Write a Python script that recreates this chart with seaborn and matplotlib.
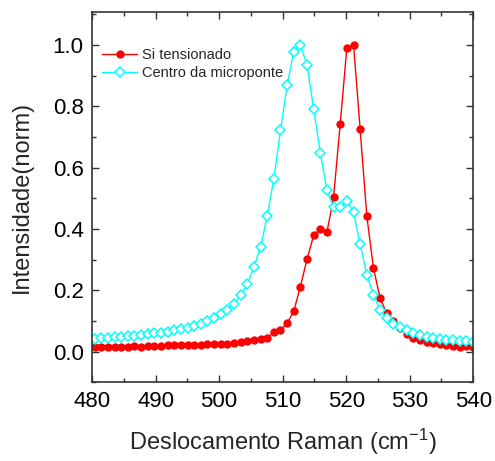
import pandas as pd
import seaborn as sns
import matplotlib.pyplot as plt
from matplotlib.ticker import MultipleLocator

# deslocamento Raman (cm-1), passo do espectrometro ~1.045
raman_shift = [480.40, 481.45, 482.49, 483.54, 484.58, 485.63, 486.67, 487.72, 488.76, 489.81,
               490.85, 491.90, 492.94, 493.99, 495.03, 496.08, 497.12, 498.17, 499.21, 500.26,
               501.30, 502.35, 503.39, 504.44, 505.48, 506.53, 507.57, 508.62, 509.66, 510.71,
               511.75, 512.80, 513.84, 514.89, 515.93, 516.98, 518.02, 519.07, 520.11, 521.16,
               522.20, 523.25, 524.29, 525.34, 526.38, 527.43, 528.47, 529.52, 530.56, 531.61,
               532.65, 533.70, 534.74, 535.79, 536.83, 537.88, 538.92, 539.97]

si_tensionado = [0.015, 0.016, 0.015, 0.016, 0.014, 0.016, 0.017, 0.016, 0.018, 0.019,
                 0.018, 0.020, 0.021, 0.020, 0.022, 0.021, 0.022, 0.024, 0.023, 0.026,
                 0.025, 0.029, 0.030, 0.034, 0.036, 0.040, 0.045, 0.063, 0.069, 0.093,
                 0.132, 0.212, 0.302, 0.379, 0.401, 0.390, 0.504, 0.744, 0.992, 1.001,
                 0.725, 0.442, 0.273, 0.174, 0.125, 0.101, 0.078, 0.058, 0.045, 0.038,
                 0.032, 0.028, 0.025, 0.021, 0.019, 0.016, 0.017, 0.015]

centro_microponte = [0.040, 0.043, 0.045, 0.048, 0.049, 0.051, 0.052, 0.055, 0.057, 0.059,
                     0.062, 0.065, 0.069, 0.073, 0.078, 0.084, 0.090, 0.099, 0.110, 0.121,
                     0.134, 0.154, 0.183, 0.219, 0.275, 0.341, 0.442, 0.564, 0.722, 0.869,
                     0.979, 1.000, 0.935, 0.790, 0.648, 0.526, 0.470, 0.470, 0.490, 0.455,
                     0.350, 0.251, 0.183, 0.136, 0.110, 0.090, 0.080, 0.070, 0.060, 0.053,
                     0.048, 0.045, 0.042, 0.039, 0.037, 0.035, 0.033, 0.031]

df = pd.DataFrame({'shift': raman_shift, 'si': si_tensionado, 'centro': centro_microponte})

sns.set_style('ticks')
plt.rcParams['font.family'] = ['Liberation Sans', 'DejaVu Sans']
plt.rcParams['mathtext.fontset'] = 'custom'
plt.rcParams['mathtext.rm'] = 'Liberation Sans'
plt.rcParams['mathtext.it'] = 'Liberation Sans'

fig = plt.figure(figsize=(4.95, 4.61), dpi=100)
ax = fig.add_axes([0.186, 0.171, 0.770, 0.803])

sns.lineplot(data=df, x='shift', y='si', ax=ax, color='#ff0000', lw=1,
             marker='o', markersize=6, markeredgewidth=0, label='Si tensionado')
sns.lineplot(data=df, x='shift', y='centro', ax=ax, color='#00ffff', lw=1,
             marker='D', markersize=5.5, markerfacecolor='white', markeredgecolor='#00ffff',
             markeredgewidth=1.1, label='Centro da microponte')

ax.set_xlim(480, 540)
ax.set_ylim(-0.1, 1.108)
ax.xaxis.set_major_locator(MultipleLocator(10))
ax.xaxis.set_minor_locator(MultipleLocator(5))
ax.yaxis.set_major_locator(MultipleLocator(0.2))
ax.yaxis.set_minor_locator(MultipleLocator(0.1))
ax.yaxis.set_major_formatter(plt.FuncFormatter(lambda v, p: f'{v:.1f}'))
ax.tick_params(which='both', direction='in', top=True, right=True, width=1, colors='#333333',
               labelcolor='black')
ax.tick_params(which='major', length=5, labelsize=16, pad=6)
ax.tick_params(which='minor', length=3)
for s in ax.spines.values():
    s.set_linewidth(1.2)
    s.set_color('#333333')

ax.set_xlabel('Deslocamento Raman (cm$^{-1}$)', fontsize=17, labelpad=11)
ax.set_ylabel('Intensidade(norm)', fontsize=17, labelpad=14)

ax.legend(loc='upper left', bbox_to_anchor=(0.0, 0.93), frameon=False, fontsize=10.5,
          handlelength=2.4, handletextpad=0.3, labelspacing=0.3, borderaxespad=0.3)

fig.savefig('out.png', dpi=100)
